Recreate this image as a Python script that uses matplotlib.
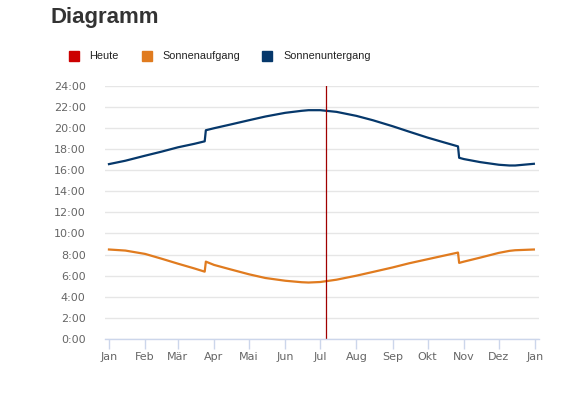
import matplotlib
matplotlib.use("Agg")
import matplotlib.pyplot as plt
from matplotlib.patches import Rectangle

# --- Data (day of year, time in hours) ---
days = [0, 14, 31, 45, 59, 73, 82, 83, 90, 104, 120, 134, 151, 165, 171,
        181, 195, 212, 226, 243, 257, 273, 287, 299, 300, 304, 318, 334,
        343, 348, 364]

sunrise = [8.48, 8.38, 8.06, 7.61, 7.14, 6.69, 6.38, 7.33, 7.02, 6.60, 6.13,
           5.78, 5.52, 5.38, 5.35, 5.40, 5.62, 6.00, 6.35, 6.78, 7.17, 7.56,
           7.90, 8.19, 7.21, 7.33, 7.71, 8.16, 8.35, 8.41, 8.48]

sunset = [16.57, 16.89, 17.37, 17.75, 18.16, 18.49, 18.73, 19.78, 19.97,
          20.32, 20.73, 21.08, 21.43, 21.62, 21.68, 21.68, 21.52, 21.14,
          20.73, 20.16, 19.65, 19.08, 18.63, 18.25, 17.17, 17.05, 16.76,
          16.51, 16.44, 16.44, 16.60]

today = 186

month_starts = [0, 31, 59, 90, 120, 151, 181, 212, 243, 273, 304, 334, 365]
month_labels = ["Jan", "Feb", "Mär", "Apr", "Mai", "Jun", "Jul", "Aug",
                "Sep", "Okt", "Nov", "Dez", "Jan"]
hour_ticks = list(range(0, 25, 2))

RED = "#cc0000"
ORANGE = "#e07b1f"
NAVY = "#06386b"
AXIS = "#ccd6eb"

fig = plt.figure(figsize=(5.79, 3.93), dpi=100)
ax = fig.add_axes([105 / 579, 1 - 339 / 393, 434 / 579, (339 - 85.7) / 393])

ax.plot(days, sunrise, color=ORANGE, lw=1.6, solid_joinstyle="round")
ax.plot(days, sunset, color=NAVY, lw=1.6, solid_joinstyle="round")
ax.axvline(today, color="#a00000", lw=0.9)

ax.set_xlim(-3.4, 368.4)
ax.set_ylim(0, 24)

ax.set_yticks(hour_ticks)
ax.set_yticklabels([f"{h}:00" for h in hour_ticks])
ax.set_xticks(month_starts)
ax.set_xticklabels(month_labels)

ax.grid(axis="y", color="#e6e6e6", lw=1)
ax.set_axisbelow(True)
for s in ["top", "right", "left"]:
    ax.spines[s].set_visible(False)
ax.spines["bottom"].set_color(AXIS)
ax.spines["bottom"].set_linewidth(1)

ax.tick_params(axis="y", length=0, pad=14, labelsize=8, labelcolor="#666666")
ax.tick_params(axis="x", length=7, width=1, color=AXIS, pad=2,
               labelsize=8, labelcolor="#666666")
for lbl in ax.get_xticklabels() + ax.get_yticklabels():
    lbl.set_family("DejaVu Sans")

# --- Title ---
fig.text(50 / 579, 1 - 18 / 393, "Diagramm", fontsize=16, fontweight="bold",
         color="#333333", family="Liberation Sans", va="center", ha="left")

# --- Legend (manual) ---
legend_items = [("Heute", RED, 69, 89), ("Sonnenaufgang", ORANGE, 142, 162),
                ("Sonnenuntergang", NAVY, 262, 283)]
for name, col, xb, xt in legend_items:
    fig.patches.append(Rectangle((xb / 579, 1 - 61 / 393), 10 / 579, 10 / 393,
                                 transform=fig.transFigure, color=col))
    fig.text(xt / 579, 1 - 56 / 393, name, fontsize=7.8, color="#222222",
             family="Liberation Sans", va="center", ha="left")

fig.savefig("out.png", dpi=100)
